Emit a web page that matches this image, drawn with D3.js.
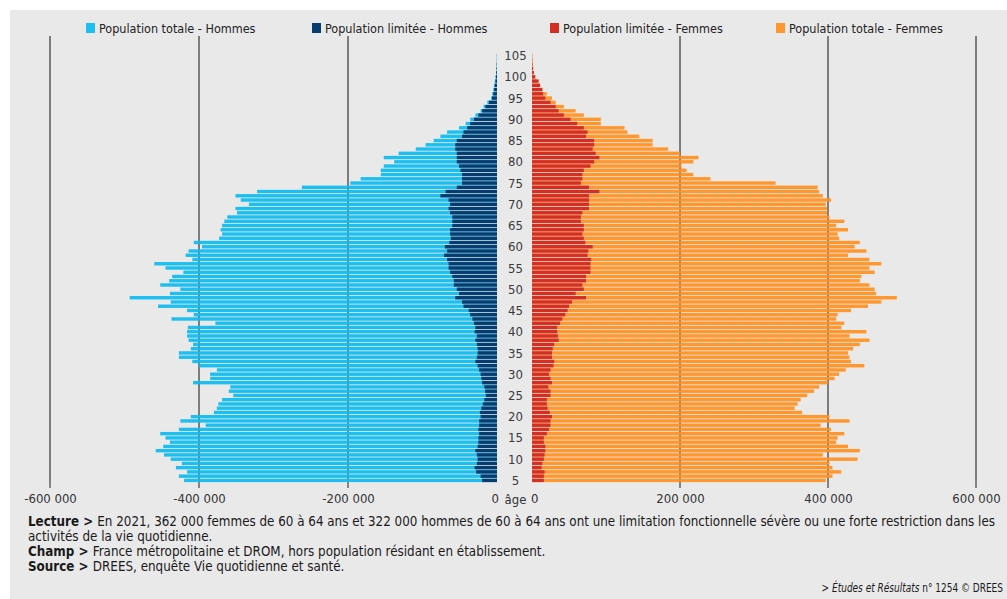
<!DOCTYPE html>
<html lang="fr">
<head>
<meta charset="utf-8">
<script src="https://cdn.jsdelivr.net/npm/d3@7"></script>
<style>
  html, body { margin: 0; padding: 0; background: #ffffff; }
  svg { display: block; }
  .txt { font-family: 'DejaVu Sans Condensed', 'Liberation Sans Narrow', sans-serif; }
</style>
</head>
<body>
<svg id="chart" width="1007" height="599"></svg>
<script>
// Âges (en années révolues), de 5 à 105 ans
const ages = [5,6,7,8,9,10,11,12,13,14,15,16,17,18,19,20,21,22,23,24,25,26,27,28,29,30,
  31,32,33,34,35,36,37,38,39,40,41,42,43,44,45,46,47,48,49,50,51,52,53,54,55,56,57,58,59,60,
  61,62,63,64,65,66,67,68,69,70,71,72,73,74,75,76,77,78,79,80,81,82,83,84,85,86,87,88,89,90,
  91,92,93,94,95,96,97,98,99,100,101,102,103,104,105];

// Effectifs en milliers, un par âge (5 à 105 ans)
const hommesTotal = [420,427,416,431,423,438,447,458,448,439,445,452,427,391,425,411,380,376,374,369,
  354,360,358,408,385,385,376,400,409,427,427,411,408,414,416,416,415,378,437,407,
  416,455,438,493,439,425,452,440,436,421,445,460,409,418,414,396,407,373,369,371,
  369,366,362,349,351,333,344,351,322,262,197,183,156,156,152,138,152,132,109,96,
  85,76,67,51,42,36,29,22,18,13,8,6.5,5,4,3,2,1.2,0.8,0.5,0.3,0.3];

const hommesLimites = [20,22,28,30,27,26,27,29,26,25,25,24,25,24,24,22,23,21,19,17,
  15,16,17,20,21,22,24,26,29,27,26,26,27,29,27,30,29,31,33,36,
  38,45,47,56,51,54,58,58,60,63,65,65,67,71,67,70,64,62,63,63,
  60,60,60,63,65,63,65,76,69,54,47,47,47,49,51,54,54,54,56,56,
  54,47,45,40,36,31,25,20,15.6,11,6.7,5,4,3,2,1.5,1,0.6,0.4,0.2,0.2];

const femmesLimitees = [16,16,17,13,14,16,17,18,18,16,16,20,23,25,25,27,24,21,20,20,
  25,25,22,27,25,23,25,29,30,27,27,28,30,36,35,34,34,38,41,45,
  48,50,54,73,59,70,68,73,73,79,79,79,80,75,76,82,72,70,68,70,
  70,66,66,68,77,77,77,77,91,77,66,68,68,70,79,84,91,86,82,84,
  84,73,75,70,61,52,43,36,32,25,18,15,14,11,9,4.5,2.5,1.5,0.8,0.5,0.3];

const femmesTotal = [397,406,418,406,402,440,393,443,427,411,413,422,404,390,429,402,365,355,359,363,
  372,381,388,400,409,415,424,449,431,429,427,434,443,456,429,452,418,422,411,413,
  431,454,472,493,465,463,456,443,445,463,456,472,456,427,452,436,443,415,413,427,
  411,422,402,399,399,397,404,393,388,386,329,241,218,209,202,218,225,200,184,163,
  163,145,129,125,93,93,70,59,43,32,27,20,14,10,6,3.5,2.5,1.5,0.8,0.5,0.3];

// Graduations de l'axe horizontal
const ticksHommes = [-600000, -400000, -200000, 0];
const ticksFemmes = [0, 200000, 400000, 600000];
const tickLabels = { "-600000": "-600 000", "-400000": "-400 000", "-200000": "-200 000",
  "0": "0", "200000": "200 000", "400000": "400 000", "600000": "600 000" };
const ageLabels = [5,10,15,20,25,30,35,40,45,50,55,60,65,70,75,80,85,90,95,100,105];

const legendItems = [
  { label: "Population totale - Hommes", color: "#1dbff0" },
  { label: "Population limitée - Hommes", color: "#083b6e" },
  { label: "Population limitée - Femmes", color: "#d42f24" },
  { label: "Population totale - Femmes", color: "#ff962e" }
];

const colors = {
  hommesTotal: "#1dbff0",
  hommesLimites: "#083b6e",
  femmesLimitees: "#d42f24",
  femmesTotal: "#ff962e"
};

const svg = d3.select("#chart");

// Fond gris du cadre
svg.append("rect").attr("x", 10).attr("y", 10).attr("width", 997).attr("height", 589)
  .attr("fill", "#e9e9e9");

// Échelles
const xH = d3.scaleLinear().domain([-600000, 0]).range([50, 497]);
const xF = d3.scaleLinear().domain([0, 600000]).range([532, 976]);
const y = d3.scaleBand().domain(ages.slice().reverse()).range([53.9, 482.1]).paddingInner(0.2);

const rows = ages.map((a, i) => ({
  age: a,
  hT: hommesTotal[i] * 1000,
  hL: hommesLimites[i] * 1000,
  fL: femmesLimitees[i] * 1000,
  fT: femmesTotal[i] * 1000
}));

// Lignes de quadrillage (derrière les barres)
const gridVals = [-600000, -400000, -200000];
const gridValsF = [200000, 400000, 600000];
const grid = svg.append("g");
gridVals.forEach(v => grid.append("line")
  .attr("x1", xH(v)).attr("x2", xH(v)).attr("y1", 36).attr("y2", 488)
  .attr("stroke", "#5a5a5a").attr("stroke-width", 1.4));
gridValsF.forEach(v => grid.append("line")
  .attr("x1", xF(v)).attr("x2", xF(v)).attr("y1", 36).attr("y2", 488)
  .attr("stroke", "#5a5a5a").attr("stroke-width", 1.4));

// Barres
const bars = svg.append("g");
function drawLeft(key, color) {
  bars.selectAll(null).data(rows).join("rect")
    .attr("x", d => xH(-d[key]))
    .attr("y", d => y(d.age))
    .attr("width", d => xH(0) - xH(-d[key]))
    .attr("height", y.bandwidth())
    .attr("fill", color);
}
function drawRight(key, color) {
  bars.selectAll(null).data(rows).join("rect")
    .attr("x", xF(0))
    .attr("y", d => y(d.age))
    .attr("width", d => xF(d[key]) - xF(0))
    .attr("height", y.bandwidth())
    .attr("fill", color);
}
drawLeft("hT", colors.hommesTotal);
drawLeft("hL", colors.hommesLimites);
drawRight("fT", colors.femmesTotal);
drawRight("fL", colors.femmesLimitees);

// Trace légère du quadrillage au-dessus des barres
const gridTop = svg.append("g").attr("stroke", "#000").attr("stroke-opacity", 0.1).attr("stroke-width", 1);
gridVals.forEach(v => gridTop.append("line")
  .attr("x1", xH(v)).attr("x2", xH(v)).attr("y1", 36).attr("y2", 482));
gridValsF.forEach(v => gridTop.append("line")
  .attr("x1", xF(v)).attr("x2", xF(v)).attr("y1", 36).attr("y2", 482));

// Étiquettes d'âge au centre
svg.append("g").selectAll("text").data(ageLabels).join("text")
  .attr("class", "txt")
  .attr("x", (xH(0) + xF(0)) / 2 + 1)
  .attr("y", d => y(d) + y.bandwidth() / 2)
  .attr("dy", "0.35em")
  .attr("text-anchor", "middle")
  .attr("font-size", 13)
  .attr("fill", "#3a3a3a")
  .text(d => d);

// Axes horizontaux (étiquettes seules)
const axisH = d3.axisBottom(xH).tickValues(ticksHommes).tickSize(0).tickFormat(d => tickLabels[String(d)]);
const axisF = d3.axisBottom(xF).tickValues(ticksFemmes).tickSize(0).tickFormat(d => tickLabels[String(d)]);
const gaH = svg.append("g").attr("transform", "translate(0,489)").call(axisH);
const gaF = svg.append("g").attr("transform", "translate(0,489)").call(axisF);
[gaH, gaF].forEach(g => {
  g.select(".domain").remove();
  g.selectAll("text").attr("class", "txt").attr("font-size", 13).attr("fill", "#333").attr("dy", "0.85em");
});
gaH.selectAll(".tick").filter(d => d === 0).select("text").attr("text-anchor", "end").attr("dx", "1.5");
gaF.selectAll(".tick").filter(d => d === 0).select("text").attr("text-anchor", "start").attr("dx", "-1.5");
svg.append("text").attr("class", "txt")
  .attr("x", (xH(0) + xF(0)) / 2 + 1).attr("y", 503.5)
  .attr("text-anchor", "middle").attr("font-size", 13).attr("fill", "#333")
  .text("âge");

// Légende
const legendX = [86, 312, 550, 776];
const lg = svg.append("g");
legendItems.forEach((it, i) => {
  lg.append("rect").attr("x", legendX[i]).attr("y", 23).attr("width", 9).attr("height", 10).attr("fill", it.color);
  lg.append("text").attr("class", "txt")
    .attr("x", legendX[i] + 13).attr("y", 32.5)
    .attr("font-size", 12.5).attr("fill", "#222")
    .text(it.label);
});

// Notes
const notes = svg.append("g").attr("class", "txt").attr("font-size", 13.3).attr("fill", "#1a1a1a");
function note(yPos, bold, rest) {
  const t = notes.append("text").attr("x", 28).attr("y", yPos);
  if (bold) t.append("tspan").attr("font-weight", "bold").text(bold);
  t.append("tspan").text(rest);
  return t;
}
note(526, "Lecture > ", "En 2021, 362 000 femmes de 60 à 64 ans et 322 000 hommes de 60 à 64 ans ont une limitation fonctionnelle sévère ou une forte restriction dans les")
  .attr("textLength", 967).attr("lengthAdjust", "spacingAndGlyphs");
note(541, null, "activités de la vie quotidienne.");
note(556, "Champ > ", "France métropolitaine et DROM, hors population résidant en établissement.");
note(571, "Source > ", "DREES, enquête Vie quotidienne et santé.");

// Référence de la publication, en caractères resserrés
const src = svg.append("text").attr("class", "txt")
  .attr("transform", "translate(1003,592) scale(0.8,1)")
  .attr("text-anchor", "end").attr("font-size", 12.5).attr("fill", "#1a1a1a");
src.append("tspan").text("> ");
src.append("tspan").attr("font-style", "italic").text("Études et Résultats");
src.append("tspan").text(" n° 1254 © DREES");
</script>
</body>
</html>
